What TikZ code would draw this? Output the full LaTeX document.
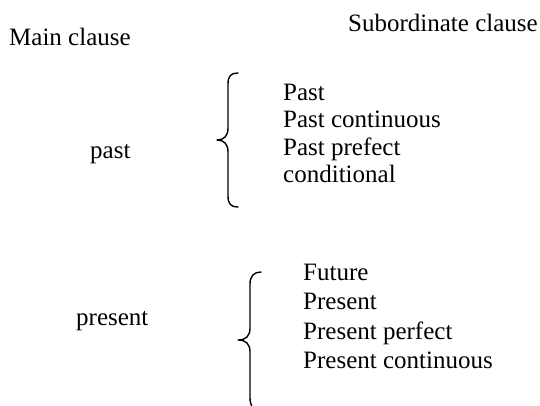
\documentclass[tikz,border=0pt]{standalone}
\usepackage{fontspec}
\setmainfont{Liberation Serif}
\tikzset{
  lbl/.style={anchor=base west, inner sep=0pt, font=\fontsize{25}{29}\selectfont},
  bracepath/.style={line width=1.4pt, line cap=round, line join=round}
}
\begin{document}
\begin{tikzpicture}[x=1pt,y=-1pt]
\useasboundingbox (0,0) rectangle (540,405);
\clip (0,0) rectangle (540,405);
\node[lbl] (sub) at (348,31) {Subordinate clause};
\node[lbl] (main) at (9,45) {Main clause};
\node[lbl] (past) at (90,158) {past};
\node[lbl] (present) at (76,325) {present};
% past list
\node[lbl] (p1) at (283,100) {Past};
\node[lbl] (p2) at (283,127.5) {Past continuous};
\node[lbl] (p3) at (283,155) {Past prefect};
\node[lbl] (p4) at (283,182.5) {conditional};
% present list
\node[lbl] (q1) at (303,280) {Future};
\node[lbl] (q2) at (303,309.5) {Present};
\node[lbl] (q3) at (303,339) {Present perfect};
\node[lbl] (q4) at (303,368) {Present continuous};
% braces
\draw[bracepath] (238,73) .. controls (231,73) and (228,76) .. (228,84) -- (228,128)
  .. controls (228,136) and (224,140) .. (217,140)
  .. controls (224,140) and (228,144) .. (228,152) -- (228,196)
  .. controls (228,204) and (231,207) .. (238,207);
\draw[bracepath] (261,272) .. controls (254,272) and (250,276) .. (250,284) -- (250,328)
  .. controls (250,336) and (246,340) .. (238,340)
  .. controls (246,340) and (250,344) .. (250,352) -- (250,398)
  .. controls (250,402) and (251,404) .. (252,407);
\end{tikzpicture}
\end{document}
